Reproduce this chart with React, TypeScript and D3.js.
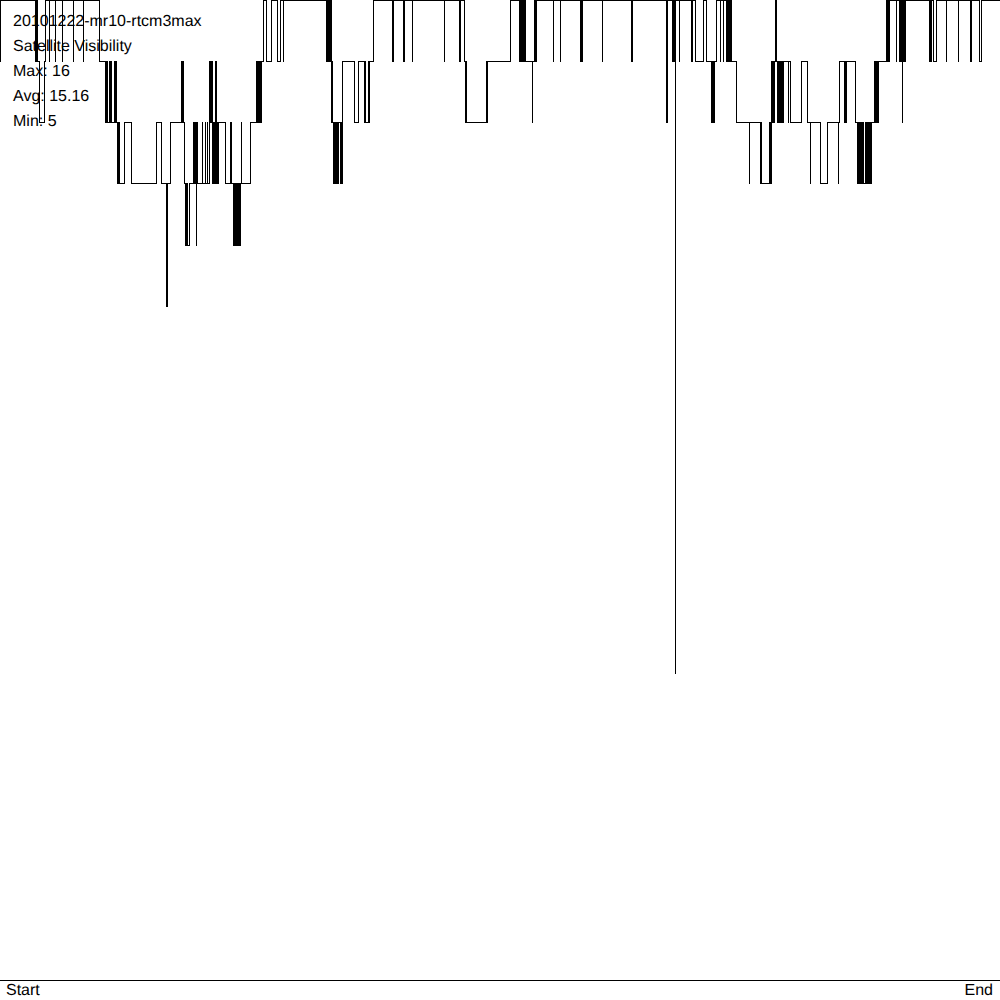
import React from "react";
import * as d3 from "d3";

// Title / stats labels
const titleLines = ["20101222-mr10-rtcm3max", "Satellite Visibility", "Max: 16", "Avg: 15.16", "Min: 5"];
const axisLabels = ["Start", "End"];

// Step series: [position (0..1000), satellites visible], value holds until next position
const segStart: [number, number][] = [
  [0, 15], [0.6, 16], [35, 15], [35.5, 16], [36, 15], [36.6, 16], [37.2, 15], [39.3, 14], [44.5, 15], [45, 16],
  [49, 15], [49.5, 16], [55, 15], [55.5, 16], [62, 15], [62.5, 16], [73, 15], [73.5, 16], [83, 15], [83.5, 16], [99, 15],
];
const segA: [number, number][] = [
  [105, 14], [105.5, 15], [106, 14], [106.5, 15], [107, 14], [109, 15], [109.5, 14], [110, 15], [110.5, 14], [111, 15],
  [111.6, 14], [114, 15], [114.5, 14], [115, 15], [115.5, 14], [116, 15], [116.6, 14], [117.2, 13], [117.7, 14],
  [118.2, 13], [118.7, 14], [119.3, 13], [124.3, 14], [131.7, 13], [156.7, 14], [161.7, 13], [166.7, 11], [167.1, 13], [170, 14],
];
const segB: [number, number][] = [
  [181.7, 15], [182.2, 14], [182.7, 15], [183.3, 14], [184, 13], [185, 12], [185.5, 13], [186, 12], [186.5, 13], [187, 12],
  [189.3, 13], [193.3, 14], [193.8, 13], [194.4, 14], [195, 13], [195.5, 14], [196.1, 12], [196.5, 13], [197, 14], [197.5, 13],
  [202, 14], [202.4, 13], [205, 14], [205.4, 13], [207, 14], [207.4, 13], [209.3, 15], [209.8, 14], [210.3, 15], [210.8, 14],
  [211.3, 15], [211.8, 14], [212.3, 15], [212.8, 13], [213.3, 14], [213.8, 13], [214.3, 14], [214.8, 13], [215.3, 14],
  [215.8, 15], [216.3, 14], [216.8, 13], [217.3, 14], [217.8, 13], [218.4, 14], [225, 13], [230, 14], [231.7, 13],
  [233.3, 12], [233.8, 13], [234.3, 12], [234.8, 13], [235.3, 12], [235.8, 13], [236.3, 12], [236.8, 13], [237.3, 12],
  [237.8, 13], [238.3, 12], [238.8, 13], [239.3, 12], [239.8, 13], [240.3, 12], [240.7, 13], [241.3, 14], [241.7, 13],
  [250, 14], [256.7, 15], [257.5, 14], [258, 15], [259, 14], [259.5, 15], [260.7, 14], [261.2, 15], [263.3, 16],
];
const segC: [number, number][] = [
  [266.7, 15], [271.7, 16], [277, 15], [280, 16], [283.3, 15], [283.7, 16], [326.7, 15], [327, 16], [327.3, 15],
  [327.7, 16], [328.3, 15], [328.8, 16], [329.3, 15], [329.8, 16], [330.3, 15], [330.8, 16], [331.3, 15], [331.7, 14],
  [332.3, 15], [332.8, 14], [333.3, 13], [333.8, 14], [334.3, 13], [334.8, 14], [335.3, 13], [335.8, 14], [336.3, 13],
  [336.8, 14], [337.3, 13], [337.8, 14], [338.3, 13], [338.7, 14], [340, 13], [340.4, 14], [341.7, 13], [342.1, 14],
  [342.9, 15], [354.3, 14], [358.3, 15], [364.3, 14], [364.8, 15], [365.3, 14], [368, 15], [368.5, 14], [369, 15], [373.3, 16],
];
const segD: [number, number][] = [
  [392.7, 15], [393.1, 16], [403.3, 15], [403.8, 16], [404.3, 15], [404.8, 16], [412.3, 15], [412.7, 16], [444.3, 15],
  [444.7, 16], [459.3, 15], [459.8, 16], [460.3, 15], [460.8, 16], [464.3, 15], [465.5, 14], [466, 15], [466.5, 14],
  [486.7, 15], [487.2, 14], [487.7, 15],
];
const segE: [number, number][] = [
  [510.7, 16], [519, 15], [519.5, 16], [520, 15], [520.5, 16], [521, 15], [521.5, 16], [522.7, 15], [523.2, 16],
  [523.7, 15], [524.2, 16], [524.7, 15], [525.2, 16], [525.7, 15], [532.3, 14], [532.7, 15], [534.3, 16], [534.8, 15],
  [535.3, 16], [535.8, 15], [536.3, 16], [553.3, 15], [553.7, 16], [560, 15], [560.4, 16], [580.7, 15], [581.2, 16],
  [581.7, 15], [582.1, 16], [602.3, 15], [602.7, 16], [631.7, 15], [632.1, 16], [666.7, 14], [667.1, 16],
];
const segF: [number, number][] = [
  [672.7, 15], [673.1, 16], [673.7, 15], [674.1, 16], [675.5, 5], [675.9, 16], [679, 15], [679.4, 16], [691.7, 15],
  [692.1, 16], [695, 15], [703.3, 16], [706.7, 15], [711.7, 14], [712.2, 15], [712.7, 14], [713.3, 15], [713.7, 14],
  [714.1, 15], [716.7, 16], [720, 15], [720.4, 16], [723.3, 15], [723.7, 16], [726.7, 15], [727.2, 16], [727.7, 15],
  [728.2, 16], [728.7, 15], [729.2, 16], [729.7, 15], [730.2, 16], [730.7, 15], [731.2, 16], [731.7, 15], [736.7, 14],
  [749.3, 13], [749.7, 14], [760, 13], [760.4, 14], [761.7, 13], [769, 14], [769.5, 13], [770, 14], [770.5, 13],
  [771, 14], [771.7, 15], [772.2, 14], [772.7, 15], [773.2, 14], [773.7, 15], [774.2, 14], [774.7, 15], [775.1, 16],
  [775.6, 15], [776.1, 16], [776.6, 15], [777.3, 14], [777.8, 15], [778.3, 14], [778.8, 15], [779.3, 14], [779.8, 15],
  [780.3, 14], [780.8, 15], [781.3, 14], [781.8, 15], [782.3, 14], [782.8, 15], [783.3, 14], [783.8, 15], [788, 14],
  [788.5, 15], [790.7, 14], [801.7, 15], [807.3, 14], [810, 13], [810.4, 14], [820.7, 13], [827.7, 14],
];
const segG: [number, number][] = [
  [838.3, 13], [838.7, 14], [839.3, 15], [844, 14], [844.6, 15], [845.4, 14], [846, 15], [855.3, 14], [857.3, 13],
  [857.8, 14], [858.3, 13], [858.8, 14], [859.3, 13], [860.8, 14], [861.3, 13], [861.8, 14], [862.3, 13], [862.8, 14],
  [863.3, 13], [865, 14], [865.5, 13], [866, 14], [866.5, 13], [867, 14], [867.3, 13], [868.4, 14], [868.9, 13],
  [869.4, 14], [869.9, 13], [870.4, 14], [870.9, 13], [871.2, 14], [874.3, 15], [874.8, 14], [875.3, 15], [875.8, 14],
  [876.3, 15], [876.8, 14], [877.3, 15], [877.8, 14], [878.3, 15], [886, 16], [886.4, 15], [886.8, 16], [887.2, 15],
  [887.6, 16], [888.6, 15], [889, 16], [889.4, 15], [889.8, 16], [896, 15], [896.4, 16], [899, 15], [899.5, 16],
  [900, 15], [900.5, 16], [901, 15], [901.5, 16], [902, 15], [902.5, 14], [902.9, 15], [903.3, 16], [903.8, 15],
  [904.3, 16], [904.8, 15], [905.3, 16], [929.7, 15], [930.2, 16], [930.7, 15], [931.2, 16], [933.3, 15], [936.7, 16],
  [946, 15], [946.4, 16], [958.3, 15], [958.7, 16], [970.7, 15], [971.1, 16], [979, 15], [981, 16], [1000, 16],
];

const series: [number, number][] = [...segStart, ...segA, ...segB, ...segC, ...segD, ...segE, ...segF, ...segG];

const W = 1000;
const H = 1000;

export default function App() {
  const x = d3.scaleLinear().domain([0, 1000]).range([0, W]);
  const y = d3.scaleLinear().domain([0, 16]).range([980, 0]);
  const py = (v: number) => Math.floor(y(v)) + 0.5;

  const line = d3
    .line<[number, number]>()
    .x((d) => x(d[0]))
    .y((d) => py(d[1]))
    .curve(d3.curveStepAfter);

  const font = "'Liberation Sans', Arial, sans-serif";

  return (
    <svg
      width={W}
      height={H}
      style={{ position: "absolute", left: 0, top: 0, background: "#fff" }}
    >
      <rect x={0} y={0} width={W} height={H} fill="#fff" />
      <path d={line(series) || ""} fill="none" stroke="#000" strokeWidth={1} shapeRendering="crispEdges" />
      <line x1={0} x2={W} y1={py(0)} y2={py(0)} stroke="#000" strokeWidth={1} shapeRendering="crispEdges" />
      <g fontFamily={font} fontSize={16} fill="#000" textRendering="geometricPrecision">
        {titleLines.map((t, i) => (
          <text key={t} x={13} y={26 + i * 25}>
            {t}
          </text>
        ))}
        <text x={6} y={995}>
          {axisLabels[0]}
        </text>
        <text x={993} y={995} textAnchor="end">
          {axisLabels[1]}
        </text>
      </g>
    </svg>
  );
}
